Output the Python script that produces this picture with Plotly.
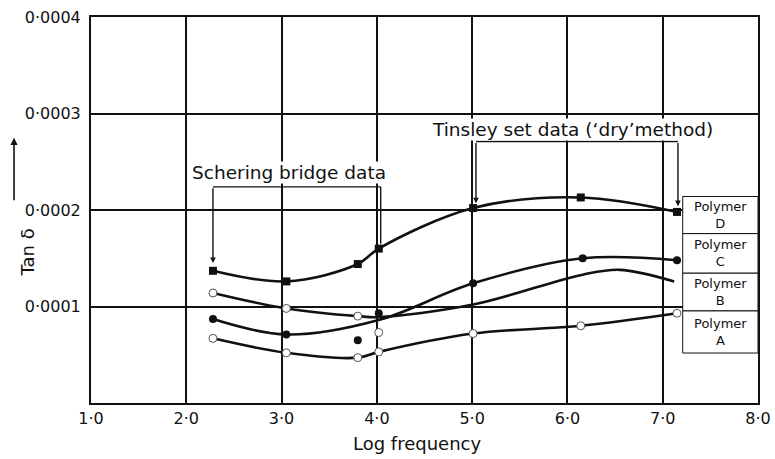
import plotly.graph_objects as go

# ---------------- data ----------------
x_ticks = [1, 2, 3, 4, 5, 6, 7, 8]
x_tick_text = ["1·0", "2·0", "3·0", "4·0", "5·0", "6·0", "7·0", "8·0"]
y_ticks = [0.0001, 0.0002, 0.0003, 0.0004]
y_tick_text = ["0·0001", "0·0002", "0·0003", "0·0004"]

# Polymer D (filled squares)
d_x = [2.28, 3.05, 3.80, 4.02, 5.01, 6.14, 7.15]
d_y = [1.37e-4, 1.26e-4, 1.44e-4, 1.60e-4, 2.02e-4, 2.13e-4, 1.98e-4]
d_curve_x = [2.28, 3.05, 3.80, 4.02, 5.01, 6.14, 7.15]
d_curve_y = [1.37e-4, 1.26e-4, 1.44e-4, 1.60e-4, 2.02e-4, 2.13e-4, 1.98e-4]

# Polymer C (filled circles)
c_x = [2.28, 3.05, 3.80, 4.02, 5.01, 6.16, 7.15]
c_y = [0.87e-4, 0.71e-4, 0.65e-4, 0.93e-4, 1.24e-4, 1.50e-4, 1.48e-4]
c_curve_x = [2.28, 3.05, 4.02, 5.01, 6.16, 7.15]
c_curve_y = [0.87e-4, 0.71e-4, 0.86e-4, 1.24e-4, 1.50e-4, 1.48e-4]

# Polymer B (open circles)
b_x = [2.28, 3.05, 3.80, 4.02]
b_y = [1.14e-4, 0.98e-4, 0.90e-4, 0.73e-4]
b_curve_x = [2.28, 3.05, 3.80, 4.02, 5.01, 6.16, 6.55, 7.12]
b_curve_y = [1.14e-4, 0.98e-4, 0.90e-4, 0.89e-4, 1.02e-4, 1.33e-4, 1.38e-4, 1.26e-4]

# Polymer A (open circles)
a_x = [2.28, 3.05, 3.80, 4.02, 5.01, 6.14, 7.15]
a_y = [0.67e-4, 0.52e-4, 0.47e-4, 0.53e-4, 0.72e-4, 0.80e-4, 0.93e-4]
a_curve_x = [2.28, 3.05, 3.80, 4.02, 5.01, 6.14, 7.15]
a_curve_y = [0.67e-4, 0.52e-4, 0.47e-4, 0.53e-4, 0.72e-4, 0.80e-4, 0.93e-4]

legend_labels = ["Polymer<br>D", "Polymer<br>C", "Polymer<br>B", "Polymer<br>A"]
legend_edges = [2.14e-4, 1.755e-4, 1.345e-4, 0.954e-4, 0.518e-4]

FONT = "DejaVu Sans"
BLACK = "#111"

fig = go.Figure()

# curves
for cx, cy in [(d_curve_x, d_curve_y), (c_curve_x, c_curve_y),
               (b_curve_x, b_curve_y), (a_curve_x, a_curve_y)]:
    fig.add_trace(go.Scatter(x=cx, y=cy, mode="lines",
                             line=dict(color=BLACK, width=2.6, shape="spline", smoothing=1.0),
                             hoverinfo="skip", showlegend=False))

# markers
fig.add_trace(go.Scatter(x=d_x, y=d_y, mode="markers",
                         marker=dict(symbol="square", size=8, color=BLACK),
                         showlegend=False))
fig.add_trace(go.Scatter(x=c_x, y=c_y, mode="markers",
                         marker=dict(symbol="circle", size=8, color=BLACK),
                         showlegend=False))
fig.add_trace(go.Scatter(x=b_x, y=b_y, mode="markers",
                         marker=dict(symbol="circle", size=8, color="white",
                                     line=dict(color="#555", width=1)),
                         showlegend=False))
fig.add_trace(go.Scatter(x=a_x, y=a_y, mode="markers",
                         marker=dict(symbol="circle", size=8, color="white",
                                     line=dict(color="#555", width=1)),
                         showlegend=False))

shapes = []
line_style = dict(color=BLACK, width=1.4)

# Schering bridge bracket
sch_y = 2.24e-4
shapes.append(dict(type="line", xref="x", yref="y", x0=d_x[0], x1=4.04, y0=sch_y, y1=sch_y, line=line_style))
shapes.append(dict(type="line", xref="x", yref="y", x0=4.04, x1=4.04, y0=sch_y, y1=d_y[3] + 0.05e-4, line=line_style))

# Tinsley bracket
tin_y = 2.71e-4
shapes.append(dict(type="line", xref="x", yref="y", x0=5.04, x1=7.16, y0=tin_y, y1=tin_y, line=line_style))

# legend boxes
for i in range(len(legend_labels)):
    shapes.append(dict(type="rect", xref="x", yref="y", x0=7.21, x1=8.0,
                       y0=legend_edges[i + 1], y1=legend_edges[i],
                       line=dict(color=BLACK, width=1), fillcolor="white", layer="above"))

fig.update_layout(shapes=shapes)

ann = []
# bracket arrows
ann.append(dict(x=d_x[0], y=d_y[0] + 0.08e-4, xref="x", yref="y", ax=d_x[0], ay=sch_y,
                axref="x", ayref="y", showarrow=True, arrowhead=2, arrowsize=0.8,
                arrowwidth=1.4, arrowcolor=BLACK, text=""))
ann.append(dict(x=5.04, y=d_y[4] + 0.05e-4, xref="x", yref="y", ax=5.04, ay=tin_y,
                axref="x", ayref="y", showarrow=True, arrowhead=2, arrowsize=0.8,
                arrowwidth=1.4, arrowcolor=BLACK, text=""))
ann.append(dict(x=7.16, y=d_y[6] + 0.06e-4, xref="x", yref="y", ax=7.16, ay=tin_y,
                axref="x", ayref="y", showarrow=True, arrowhead=2, arrowsize=0.8,
                arrowwidth=1.4, arrowcolor=BLACK, text=""))

ann.append(dict(x=3.08, y=2.39e-4, xref="x", yref="y", text="Schering bridge data",
                showarrow=False, bgcolor="white", borderpad=0,
                font=dict(family=FONT, size=18.5, color=BLACK)))
ann.append(dict(x=6.05, y=2.83e-4, xref="x", yref="y", text="Tinsley set data (‘dry’method)",
                showarrow=False, bgcolor="white", borderpad=0,
                font=dict(family=FONT, size=18.5, color=BLACK)))

for i, lab in enumerate(legend_labels):
    ann.append(dict(x=7.605, y=(legend_edges[i] + legend_edges[i + 1]) / 2, xref="x", yref="y",
                    text=lab, showarrow=False,
                    font=dict(family=FONT, size=13, color=BLACK)))

# y-axis title with arrow
ann.append(dict(x=-0.114, y=0.391, xref="paper", yref="paper", text="Tan δ", textangle=-90,
                showarrow=False, font=dict(family=FONT, size=18, color=BLACK)))
ann.append(dict(x=-0.1154, y=0.687, xref="paper", yref="paper", ax=0, ay=64, text="",
                showarrow=True, arrowhead=2, arrowsize=0.9, arrowwidth=1.6, arrowcolor=BLACK))

# x-axis title as annotation
ann.append(dict(x=0.49, y=-0.104, xref="paper", yref="paper", text="Log frequency",
                showarrow=False, yanchor="middle",
                font=dict(family=FONT, size=18, color=BLACK)))

fig.update_layout(annotations=ann)

fig.update_xaxes(range=[1, 8], tickvals=x_ticks, ticktext=x_tick_text,
                 showgrid=True, gridcolor=BLACK, gridwidth=1.6,
                 showline=True, linecolor=BLACK, linewidth=2, mirror=True,
                 zeroline=False, ticks="", ticklabelstandoff=0, automargin=False,
                 tickfont=dict(family=FONT, size=16, color=BLACK))
fig.update_yaxes(range=[0, 0.0004], tickvals=y_ticks, ticktext=y_tick_text,
                 showgrid=True, gridcolor=BLACK, gridwidth=1.6,
                 showline=True, linecolor=BLACK, linewidth=2, mirror=True,
                 zeroline=False, ticks="", ticklabelstandoff=5, automargin=False,
                 tickfont=dict(family=FONT, size=16, color=BLACK))

fig.update_layout(width=775, height=459, margin=dict(l=91, r=17, t=17, b=56),
                  plot_bgcolor="white", paper_bgcolor="white")

fig.write_html("out.html")
